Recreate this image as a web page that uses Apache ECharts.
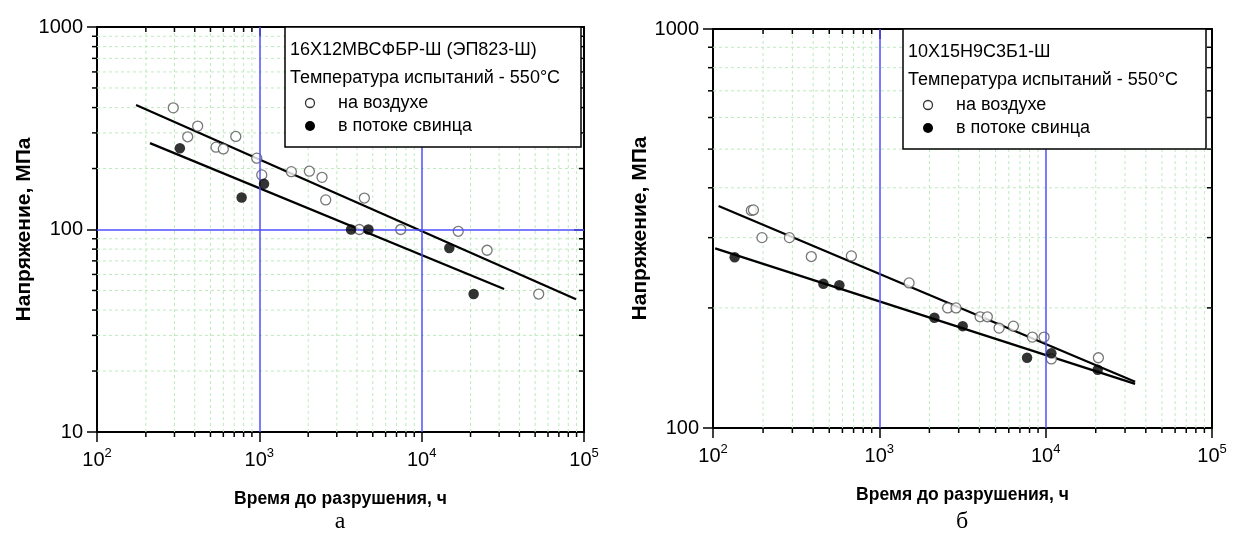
<!DOCTYPE html>
<html>
<head>
<meta charset="utf-8">
<script src="https://cdn.jsdelivr.net/npm/echarts@6/dist/echarts.min.js"></script>
<style>
  html, body { margin: 0; padding: 0; background: #fff; }
  #chart { width: 1241px; height: 546px; }
</style>
</head>
<body>
<div id="chart"></div>
<script>
// Длительная прочность при 550 °C: время до разрушения (ч) — напряжение (МПа)

// а) 16Х12МВСФБР-Ш (ЭП823-Ш)
const steelA_air = [
  [295, 399], [362, 287], [417, 324], [541, 255], [600, 250], [716, 288],
  [964, 225], [1035, 186], [1575, 193], [2033, 194], [2433, 181], [2564, 140],
  [4131, 100], [4436, 143], [7430, 100], [16800, 98], [25300, 79], [52600, 48]
];
const steelA_lead = [
  [324, 252], [778, 144], [1069, 168], [3674, 100], [4697, 100], [14800, 81], [20900, 48]
];
const steelA_fitAir = [[174, 412], [89300, 45.2]];
const steelA_fitLead = [[212, 267], [32200, 50.8]];

// б) 10Х15Н9С3Б1-Ш
const steelB_air = [
  [170, 351], [175, 352], [197, 300], [288, 300], [390, 269], [679, 270],
  [1510, 231], [2577, 200], [2891, 200], [4034, 190], [4459, 190], [5248, 178],
  [6398, 180], [8318, 169], [9780, 169], [10820, 149], [20750, 150]
];
const steelB_lead = [
  [135, 268], [461, 230], [575, 228], [2143, 189], [3170, 180], [7730, 150], [10820, 154], [20550, 140]
];
const steelB_fitAir = [[108, 360], [34500, 130.6]];
const steelB_fitLead = [[103, 282], [34500, 129]];

// Диапазоны осей, основные линии сетки и промежуточные деления
const timeRange = [100, 100000];
const stressRangeA = [10, 1000];
const stressRangeB = [100, 1000];
const timeMajorInner = [1000, 10000];
const stressMajorInnerA = [100];
const stressMajorInnerB = [];
const timeMinor = [200, 300, 400, 500, 600, 700, 800, 900,
  2000, 3000, 4000, 5000, 6000, 7000, 8000, 9000,
  20000, 30000, 40000, 50000, 60000, 70000, 80000, 90000];
const stressMinorA = [20, 30, 40, 50, 60, 70, 80, 90, 200, 300, 400, 500, 600, 700, 800, 900];
const stressMinorB = [200, 300, 400, 500, 600, 700, 800, 900];

const xTitle = 'Время до разрушения, ч';
const yTitle = 'Напряжение, МПа';
const legendAir = 'на воздухе';
const legendLead = 'в потоке свинца';
const tempLine = 'Температура испытаний - 550°C';

const SANS = 'Liberation Sans, Arial, sans-serif';
const BLUE = '#4f4fff';
const GREEN = '#bfeabf';

function powLabel(v) {
  const e = Math.round(Math.log10(v));
  return '{b|10}{s|' + e + '}';
}

function xAxes(grid, min, max) {
  return [
    {
      type: 'log', logBase: 10, gridIndex: grid, min: min, max: max, position: 'bottom',
      axisLine: { onZero: false, lineStyle: { color: '#000', width: 2 } },
      axisTick: { length: 10, lineStyle: { color: '#000', width: 1.5 } },
      axisLabel: {
        margin: 15, formatter: powLabel,
        rich: {
          b: { fontFamily: SANS, fontSize: 20, color: '#000', lineHeight: 26 },
          s: { fontFamily: SANS, fontSize: 13, color: '#000', verticalAlign: 'top', lineHeight: 14 }
        }
      },
      splitLine: { show: false },
      name: xTitle, nameLocation: 'middle', nameGap: 58,
      nameTextStyle: { fontFamily: SANS, fontWeight: 'bold', fontSize: 17.5, color: '#000' }
    },
    {
      type: 'log', logBase: 10, gridIndex: grid, min: min, max: max, position: 'top',
      axisLine: { onZero: false, lineStyle: { color: '#000', width: 2 } },
      axisTick: { inside: true, length: 10, lineStyle: { color: '#000', width: 1.5 } },
      axisLabel: { show: false }, splitLine: { show: false }
    }
  ];
}

function yAxes(grid, min, max, gap) {
  return [
    {
      type: 'log', logBase: 10, gridIndex: grid, min: min, max: max, position: 'left',
      axisLine: { onZero: false, lineStyle: { color: '#000', width: 2 } },
      axisTick: { length: 10, lineStyle: { color: '#000', width: 1.5 } },
      axisLabel: { margin: 14, fontFamily: SANS, fontSize: 20, color: '#000', formatter: v => String(Math.round(v)) },
      splitLine: { show: false },
      name: yTitle, nameLocation: 'middle', nameGap: gap, nameRotate: 90,
      nameTextStyle: { fontFamily: SANS, fontWeight: 'bold', fontSize: 21, color: '#000' }
    },
    {
      type: 'log', logBase: 10, gridIndex: grid, min: min, max: max, position: 'right',
      axisLine: { onZero: false, lineStyle: { color: '#000', width: 2 } },
      axisTick: { inside: true, length: 10, lineStyle: { color: '#000', width: 1.5 } },
      axisLabel: { show: false }, splitLine: { show: false }
    }
  ];
}

// Промежуточные деления и пунктирная сетка по времени
function minorTimeSeries(axisIdx, values, yMin, yMax) {
  return {
    type: 'custom', xAxisIndex: axisIdx, yAxisIndex: axisIdx, clip: false, silent: true, z: 1,
    data: values.map(v => [v, yMin]),
    renderItem: function (params, api) {
      const v = api.value(0);
      const b = api.coord([v, yMin]);
      const t = api.coord([v, yMax]);
      return {
        type: 'group', children: [
          { type: 'line', shape: { x1: b[0], y1: b[1], x2: t[0], y2: t[1] }, style: { stroke: GREEN, lineWidth: 1, lineDash: [3, 3] } },
          { type: 'line', shape: { x1: b[0], y1: b[1], x2: b[0], y2: b[1] + 5 }, style: { stroke: '#000', lineWidth: 1.5 } },
          { type: 'line', shape: { x1: t[0], y1: t[1], x2: t[0], y2: t[1] + 5 }, style: { stroke: '#000', lineWidth: 1.5 } }
        ]
      };
    }
  };
}

// Промежуточные деления и пунктирная сетка по напряжению
function minorStressSeries(axisIdx, values, xMin, xMax) {
  return {
    type: 'custom', xAxisIndex: axisIdx, yAxisIndex: axisIdx, clip: false, silent: true, z: 1,
    data: values.map(v => [xMin, v]),
    renderItem: function (params, api) {
      const v = api.value(1);
      const l = api.coord([xMin, v]);
      const r = api.coord([xMax, v]);
      return {
        type: 'group', children: [
          { type: 'line', shape: { x1: l[0], y1: l[1], x2: r[0], y2: r[1] }, style: { stroke: GREEN, lineWidth: 1, lineDash: [3, 3] } },
          { type: 'line', shape: { x1: l[0] - 5, y1: l[1], x2: l[0], y2: l[1] }, style: { stroke: '#000', lineWidth: 1.5 } },
          { type: 'line', shape: { x1: r[0] - 5, y1: r[1], x2: r[0], y2: r[1] }, style: { stroke: '#000', lineWidth: 1.5 } }
        ]
      };
    }
  };
}

// Основные (синие) линии сетки на целых декадах
function majorGrid(axisIdx, xs, ys) {
  return {
    type: 'line', xAxisIndex: axisIdx, yAxisIndex: axisIdx, z: 2, symbol: 'none', silent: true,
    data: [],
    markLine: {
      silent: true, symbol: 'none', animation: false,
      label: { show: false },
      lineStyle: { color: BLUE, type: 'solid', width: 1.5, opacity: 1 },
      data: xs.map(v => ({ xAxis: v })).concat(ys.map(v => ({ yAxis: v })))
    }
  };
}

function openDots(axisIdx, data) {
  return {
    type: 'scatter', name: legendAir, xAxisIndex: axisIdx, yAxisIndex: axisIdx, z: 4,
    symbol: 'circle', symbolSize: 10, data: data,
    itemStyle: { color: '#fff', borderColor: '#555', borderWidth: 1.3 }
  };
}

function filledDots(axisIdx, data) {
  return {
    type: 'scatter', name: legendLead, xAxisIndex: axisIdx, yAxisIndex: axisIdx, z: 5,
    symbol: 'circle', symbolSize: 10.5, data: data,
    itemStyle: { color: '#000' }
  };
}

function fitLine(axisIdx, data) {
  return {
    type: 'line', xAxisIndex: axisIdx, yAxisIndex: axisIdx, z: 3, symbol: 'none',
    data: data, lineStyle: { color: '#000', width: 2.2 }
  };
}

// Рамка с подписью марки стали и условными обозначениями
function legendBox(x, y, w, h, header) {
  const Z = 200;
  const txt = (tx, ty, s) => ({
    type: 'text', x: x + tx, y: y + ty, z: Z + 1,
    style: { text: s, fontFamily: SANS, fontSize: 18, fill: '#000', verticalAlign: 'middle' }
  });
  return [
    { type: 'rect', z: Z, shape: { x: x, y: y, width: w, height: h }, style: { fill: '#fff', stroke: '#000', lineWidth: 1.5 } },
    txt(5, 23, header),
    txt(5, 51, tempLine),
    { type: 'circle', z: Z + 1, shape: { cx: x + 25, cy: y + 76, r: 4.5 }, style: { fill: '#fff', stroke: '#333', lineWidth: 1.3 } },
    txt(53, 76, legendAir),
    { type: 'circle', z: Z + 1, shape: { cx: x + 25, cy: y + 99, r: 5 }, style: { fill: '#000' } },
    txt(53, 99, legendLead)
  ];
}

const option = {
  animation: false,
  backgroundColor: '#fff',
  grid: [
    { left: 97, top: 27, width: 487, height: 405 },
    { left: 713, top: 29, width: 499, height: 399 }
  ],
  xAxis: [].concat(xAxes(0, timeRange[0], timeRange[1]), xAxes(1, timeRange[0], timeRange[1])),
  yAxis: [].concat(yAxes(0, stressRangeA[0], stressRangeA[1], 62), yAxes(1, stressRangeB[0], stressRangeB[1], 48)),
  series: [
    minorTimeSeries(0, timeMinor, stressRangeA[0], stressRangeA[1]),
    minorStressSeries(0, stressMinorA, timeRange[0], timeRange[1]),
    majorGrid(0, timeMajorInner, stressMajorInnerA),
    fitLine(0, steelA_fitAir),
    fitLine(0, steelA_fitLead),
    openDots(0, steelA_air),
    filledDots(0, steelA_lead),

    minorTimeSeries(2, timeMinor, stressRangeB[0], stressRangeB[1]),
    minorStressSeries(2, stressMinorB, timeRange[0], timeRange[1]),
    majorGrid(2, timeMajorInner, stressMajorInnerB),
    fitLine(2, steelB_fitAir),
    fitLine(2, steelB_fitLead),
    openDots(2, steelB_air),
    filledDots(2, steelB_lead)
  ],
  graphic: [].concat(
    legendBox(285, 27, 296, 120, '16Х12МВСФБР-Ш (ЭП823-Ш)'),
    legendBox(903, 29, 303, 120, '10Х15Н9С3Б1-Ш'),
    [
      { type: 'text', x: 340, y: 522, style: { text: 'а', fontFamily: 'Liberation Serif, Times New Roman, serif', fontSize: 24, fill: '#000', align: 'center', verticalAlign: 'middle' } },
      { type: 'text', x: 962, y: 522, style: { text: 'б', fontFamily: 'Liberation Serif, Times New Roman, serif', fontSize: 24, fill: '#000', align: 'center', verticalAlign: 'middle' } }
    ]
  )
};

const chart = echarts.init(document.getElementById('chart'), null, { renderer: 'canvas' });
chart.setOption(option);
</script>
</body>
</html>
